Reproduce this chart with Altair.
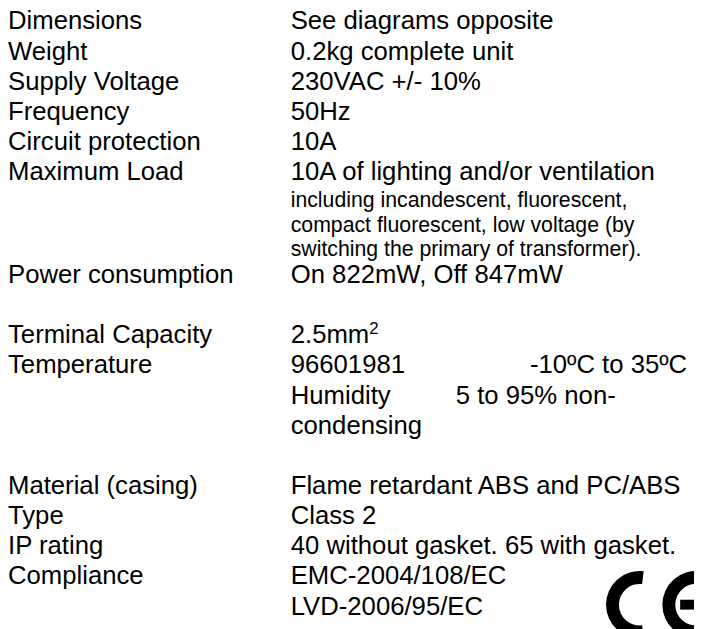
import math
import altair as alt
import pandas as pd

# ---- content -------------------------------------------------------------
labels = [
    "Dimensions", "Weight", "Supply Voltage", "Frequency", "Circuit protection",
    "Maximum Load", "", "", "", "Power consumption", "", "Terminal Capacity",
    "Temperature", "", "", "", "Material (casing)", "Type", "IP rating",
    "Compliance", "",
]
values = [
    "See diagrams opposite", "0.2kg complete unit", "230VAC +/- 10%", "50Hz", "10A",
    "10A of lighting and/or ventilation",
    "including incandescent, fluorescent,",
    "compact fluorescent, low voltage (by",
    "switching the primary of transformer).",
    "On 822mW, Off 847mW", "", "2.5mm", "96601981", "Humidity", "condensing", "",
    "Flame retardant ABS and PC/ABS", "Class 2",
    "40 without gasket. 65 with gasket.", "EMC-2004/108/EC", "LVD-2006/95/EC",
]
small_rows = [6, 7, 8]
tab_texts = [(12, "-10ºC to 35ºC", 2), (13, "5 to 95% non-", 1)]
superscripts = [(11, "2")]

# ---- layout --------------------------------------------------------------
W, H = 694, 621
FS, FS_SMALL, FS_SUP = 26, 21.5, 17
P, P_SMALL, P_TRANS = 30.5, 24.5, 27.5
COL_X = [0, 286]
TAB_X = {1: 453, 2: 528}

ys = []
y = 18.0
for i in range(len(labels)):
    if i > 0:
        a, b = (i - 1) in small_rows, i in small_rows
        y += P_SMALL if (a and b) else (P_TRANS if (a or b) else P)
    ys.append(y)

recs = []
for i, (lab, val) in enumerate(zip(labels, values)):
    if lab:
        recs.append({"x": COL_X[0], "y": ys[i], "text": lab, "fs": FS})
    if val:
        recs.append({"x": COL_X[1], "y": ys[i], "text": val,
                     "fs": FS_SMALL if i in small_rows else FS})
for i, t, k in tab_texts:
    recs.append({"x": TAB_X[k], "y": ys[i], "text": t, "fs": FS})
for i, t in superscripts:
    # width of "2.5mm" in Arial metrics (3.056 em)
    recs.append({"x": COL_X[1] + 3.056 * FS, "y": ys[i] - 9, "text": t, "fs": FS_SUP})
df = pd.DataFrame(recs)

xs = alt.Scale(domain=[0, W], range=[0, W], nice=False, zero=False)
yscale = alt.Scale(domain=[0, H], range=[0, H], nice=False, zero=False)

text = alt.Chart(df).mark_text(
    align="left", baseline="alphabetic", font="Liberation Sans", color="black"
).encode(
    x=alt.X("x:Q", scale=xs, axis=None),
    y=alt.Y("y:Q", scale=yscale, axis=None),
    text="text:N",
    size=alt.Size("fs:Q", scale=None, legend=None),
)

# ---- CE mark (partly cut by the page edge, as in the reference) ----------
ce_arcs = pd.DataFrame({
    "x": [639, 696],
    "y": [600, 600],
    "t0": [math.pi - 0.12, math.pi - 0.12],
    "t1": [2 * math.pi + 0.12, 2 * math.pi + 0.12],
})
arcs = alt.Chart(ce_arcs).mark_arc(innerRadius=21, outerRadius=34, color="black").encode(
    x=alt.X("x:Q", scale=xs, axis=None),
    y=alt.Y("y:Q", scale=yscale, axis=None),
    theta=alt.Theta("t0:Q", scale=None),
    theta2="t1:Q",
)
ce_bar = pd.DataFrame({"x": [680], "x2": [700], "y": [595], "y2": [605]})
bar = alt.Chart(ce_bar).mark_rect(color="black").encode(
    x=alt.X("x:Q", scale=xs, axis=None), x2="x2:Q",
    y=alt.Y("y:Q", scale=yscale, axis=None), y2="y2:Q",
)

chart = alt.layer(text, arcs, bar).properties(
    width=W, height=H, padding=0,
    autosize=alt.AutoSizeParams(type="none"),
).configure_view(stroke=None)

chart.save("out.html", embed_options={"renderer": "svg", "actions": False})
